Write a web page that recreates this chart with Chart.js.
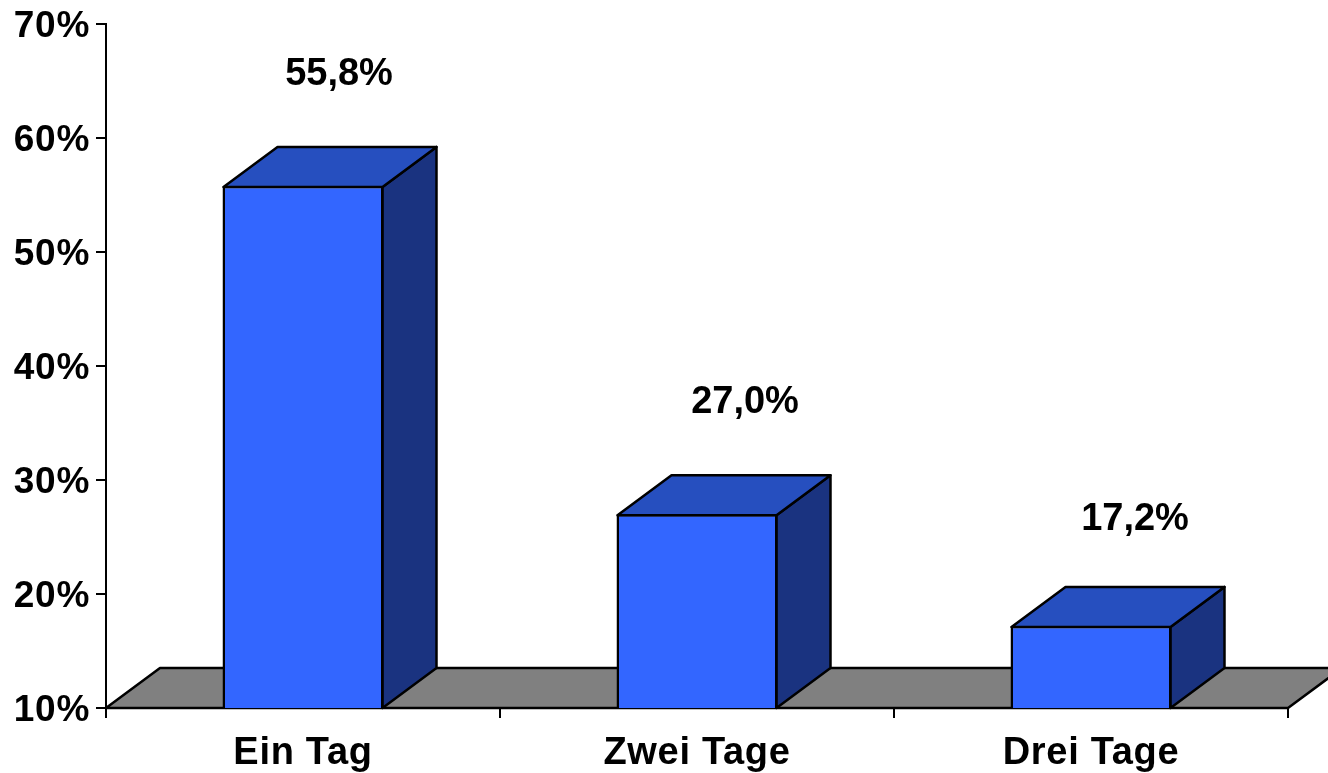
<!DOCTYPE html>
<html>
<head>
<meta charset="utf-8">
<title>Dauer</title>
<script src="https://cdn.jsdelivr.net/npm/chart.js@4/dist/chart.umd.js"></script>
<style>
    html, body { margin: 0; padding: 0; background: #fff; overflow: hidden; }
    canvas { display: block; }
</style>
</head>
<body>
<canvas id="myChart" width="1328" height="773"></canvas>
<script>
// values
const categories = ['Ein Tag', 'Zwei Tage', 'Drei Tage'];
const values = [55.8, 27.0, 17.2];
const axisMin = 10;
const axisMax = 70;
const axisStep = 10;

// fake 3d depth of the bars and the floor
const depthX = 54;
const depthY = 40;

// nudge of each value label from the top of its bar
const labelShiftX = [36, 48, 44];
const labelLift = [111, 112, 106];

const fontFamily = '"Liberation Sans", Arial, sans-serif';

function face(ctx, points, fill) {
    ctx.beginPath();
    ctx.moveTo(points[0][0], points[0][1]);
    for (let i = 1; i < points.length; i++) {
        ctx.lineTo(points[i][0], points[i][1]);
    }
    ctx.closePath();
    ctx.fillStyle = fill;
    ctx.fill();
    ctx.stroke();
}

const depthPlugin = {
    id: 'depth',
    beforeDraw(chart) {
        // tick labels in the picture are set a little wider
        chart.ctx.letterSpacing = '0.7px';
    },
    beforeDatasetsDraw(chart) {
        const ctx = chart.ctx;
        const area = chart.chartArea;
        ctx.letterSpacing = '0px';
        ctx.save();
        ctx.strokeStyle = '#000';
        ctx.lineWidth = 2.5;
        ctx.lineJoin = 'round';
        // floor
        face(ctx, [
            [area.left, area.bottom],
            [area.left + depthX, area.bottom - depthY],
            [area.right + depthX, area.bottom - depthY],
            [area.right, area.bottom]
        ], '#808080');
        // side and top of every bar
        chart.getDatasetMeta(0).data.forEach((bar) => {
            const left = bar.x - bar.width / 2 + 1;
            const right = bar.x + bar.width / 2 - 1;
            const top = bar.y + 1;
            face(ctx, [
                [right, top],
                [right + depthX, top - depthY],
                [right + depthX, area.bottom - depthY],
                [right, area.bottom]
            ], '#1A3380');
            face(ctx, [
                [left, top],
                [left + depthX, top - depthY],
                [right + depthX, top - depthY],
                [right, top]
            ], '#264FBF');
        });
        ctx.restore();
    },
    afterDatasetsDraw(chart) {
        const ctx = chart.ctx;
        ctx.save();
        ctx.fillStyle = '#000';
        ctx.font = 'bold 38px ' + fontFamily;
        ctx.textAlign = 'center';
        ctx.textBaseline = 'middle';
        chart.getDatasetMeta(0).data.forEach((bar, i) => {
            const text = values[i].toFixed(1).replace('.', ',') + '%';
            ctx.fillText(text, bar.x + labelShiftX[i], bar.y - labelLift[i]);
        });
        ctx.restore();
    }
};

var ctx = document.getElementById('myChart');
var myChart = new Chart(ctx, {
    type: 'bar',
    data: {
        labels: categories,
        datasets: [{
            data: values,
            backgroundColor: '#3366FF',
            borderColor: '#000',
            borderWidth: 2.5,
            barPercentage: 0.4086,
            categoryPercentage: 1
        }]
    },
    options: {
        responsive: false,
        animation: false,
        layout: { padding: { top: 24, right: 40, left: 0, bottom: 0 } },
        plugins: {
            legend: { display: false },
            tooltip: { enabled: false }
        },
        scales: {
            x: {
                offset: true,
                afterFit: (scale) => { scale.height = 65; },
                border: { color: '#000', width: 2 },
                grid: { drawOnChartArea: false, color: '#000', lineWidth: 2, tickLength: 10 },
                ticks: {
                    color: '#000',
                    padding: 13,
                    maxRotation: 0,
                    font: { family: fontFamily, size: 38, weight: 'bold' }
                }
            },
            y: {
                min: axisMin,
                max: axisMax,
                afterFit: (scale) => {
                    scale.width = 106;
                    // labels may stick out over the top of the axis
                    scale.paddingTop = 0;
                    scale.paddingBottom = 0;
                },
                border: { color: '#000', width: 2 },
                grid: { drawOnChartArea: false, color: '#000', lineWidth: 2, tickLength: 10 },
                ticks: {
                    stepSize: axisStep,
                    color: '#000',
                    padding: 6,
                    labelOffset: 3,
                    font: { family: fontFamily, size: 37, weight: 'bold' },
                    callback: (value) => value + '%'
                }
            }
        }
    },
    plugins: [depthPlugin]
});
</script>
</body>
</html>
